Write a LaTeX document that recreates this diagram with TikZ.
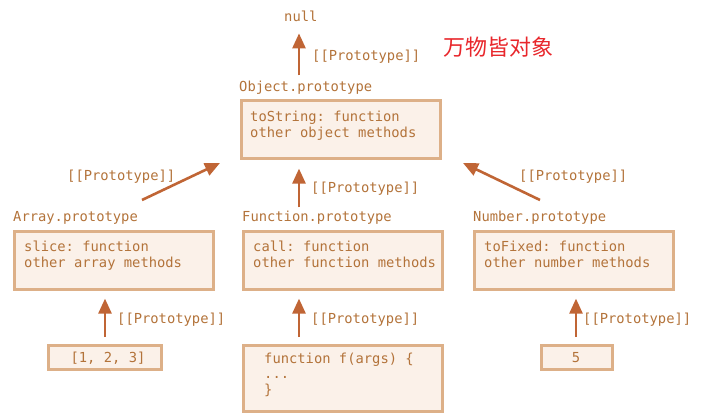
\documentclass[tikz,border=0pt]{standalone}
\usepackage{fontspec}
\setmonofont{DejaVu Sans Mono}
\newfontfamily\cjk{Noto Sans CJK SC}
\usetikzlibrary{arrows.meta}
\definecolor{boxfill}{HTML}{FBF1E9}
\definecolor{boxdraw}{HTML}{DDB088}
\definecolor{arrcol}{HTML}{C06535}
\definecolor{txtcol}{HTML}{B3733A}
\definecolor{redtxt}{HTML}{E8272C}
\begin{document}
\begin{tikzpicture}[x=1pt,y=-1pt,
  protobox/.style={draw=boxdraw,fill=boxfill,line width=2.6pt,anchor=north west,inner sep=0pt},
  code/.style={font=\ttfamily\fontsize{13.8}{15.5}\selectfont,text=txtcol,anchor=base west,inner sep=0pt,align=left},
  codec/.style={font=\ttfamily\fontsize{13.8}{15.5}\selectfont,text=txtcol,anchor=base,inner sep=0pt},
  protoarr/.style={draw=arrcol,line width=2.6pt,-{Triangle[width=13pt,length=15pt]}}]
\useasboundingbox (0,0) rectangle (713,415);
\coordinate (cmid) at (299,0);
\coordinate (cleft) at (105,0);
\coordinate (cright) at (576,0);

% top
\node[code] (null) at (284,21) {null};
\node[code] (objlab) at (239,91) {Object.prototype};
\node[protobox,minimum width=199pt,minimum height=58pt] (objbox) at (240,99) {};
\node[code] (objtxt) at (250,137) {toString: function\\other object methods};
\draw[protoarr,shorten <=5pt,shorten >=12pt] (cmid |- objlab.north) -- (cmid |- null.south);
\node[code] (lab0) at (312,60) {[[Prototype]]};
\node[font=\cjk\fontsize{22}{22}\selectfont,text=redtxt,anchor=base west,inner sep=0pt] (slogan) at (443,55) {万物皆对象};

% second row
\node[code] (arrlab) at (13,221) {Array.prototype};
\node[protobox,minimum width=199pt,minimum height=58pt] (arrbox) at (13,230) {};
\node[code] (arrtxt) at (24,267) {slice: function\\other array methods};

\node[code] (funlab) at (242,221) {Function.prototype};
\node[protobox,minimum width=199pt,minimum height=58pt] (funbox) at (242,230) {};
\node[code] (funtxt) at (253,267) {call: function\\other function methods};

\node[code] (numlab) at (473,221) {Number.prototype};
\node[protobox,minimum width=199pt,minimum height=58pt] (numbox) at (473,230) {};
\node[code] (numtxt) at (484,267) {toFixed: function\\other number methods};

\coordinate (a1) at (142,200);
\coordinate (a2) at (220,163);
\draw[protoarr] (a1) -- (a2);
\node[code] (lab1) at (67,180) {[[Prototype]]};

\draw[protoarr,shorten <=3pt,shorten >=9pt] (cmid |- funlab.north) -- (cmid |- objbox.south);
\node[code] (lab2) at (311,192) {[[Prototype]]};

\coordinate (n1) at (540,200);
\coordinate (n2) at (463,163);
\draw[protoarr] (n1) -- (n2);
\node[code] (lab3) at (519,180) {[[Prototype]]};

% third row
\node[protobox,minimum width=113pt,minimum height=24pt] (arrval) at (47,344) {};
\node[codec] (arrvaltxt) at (108,362) {[1, 2, 3]};
\draw[protoarr,shorten <=7pt,shorten >=8pt] (cleft |- arrval.north) -- (cleft |- arrbox.south);
\node[code] (lab4) at (117,323) {[[Prototype]]};

\node[protobox,minimum width=199pt,minimum height=66pt] (funval) at (242,344) {};
\node[code] (funvaltxt) at (264,394) {function f(args) \{\\...\\\}};
\draw[protoarr,shorten <=7pt,shorten >=8pt] (cmid |- funval.north) -- (cmid |- funbox.south);
\node[code] (lab5) at (311,323) {[[Prototype]]};

\node[protobox,minimum width=71pt,minimum height=24pt] (numval) at (540,344) {};
\node[codec] (numvaltxt) at (576,362) {5};
\draw[protoarr,shorten <=7pt,shorten >=8pt] (cright |- numval.north) -- (cright |- numbox.south);
\node[code] (lab6) at (583,323) {[[Prototype]]};
\end{tikzpicture}
\end{document}
